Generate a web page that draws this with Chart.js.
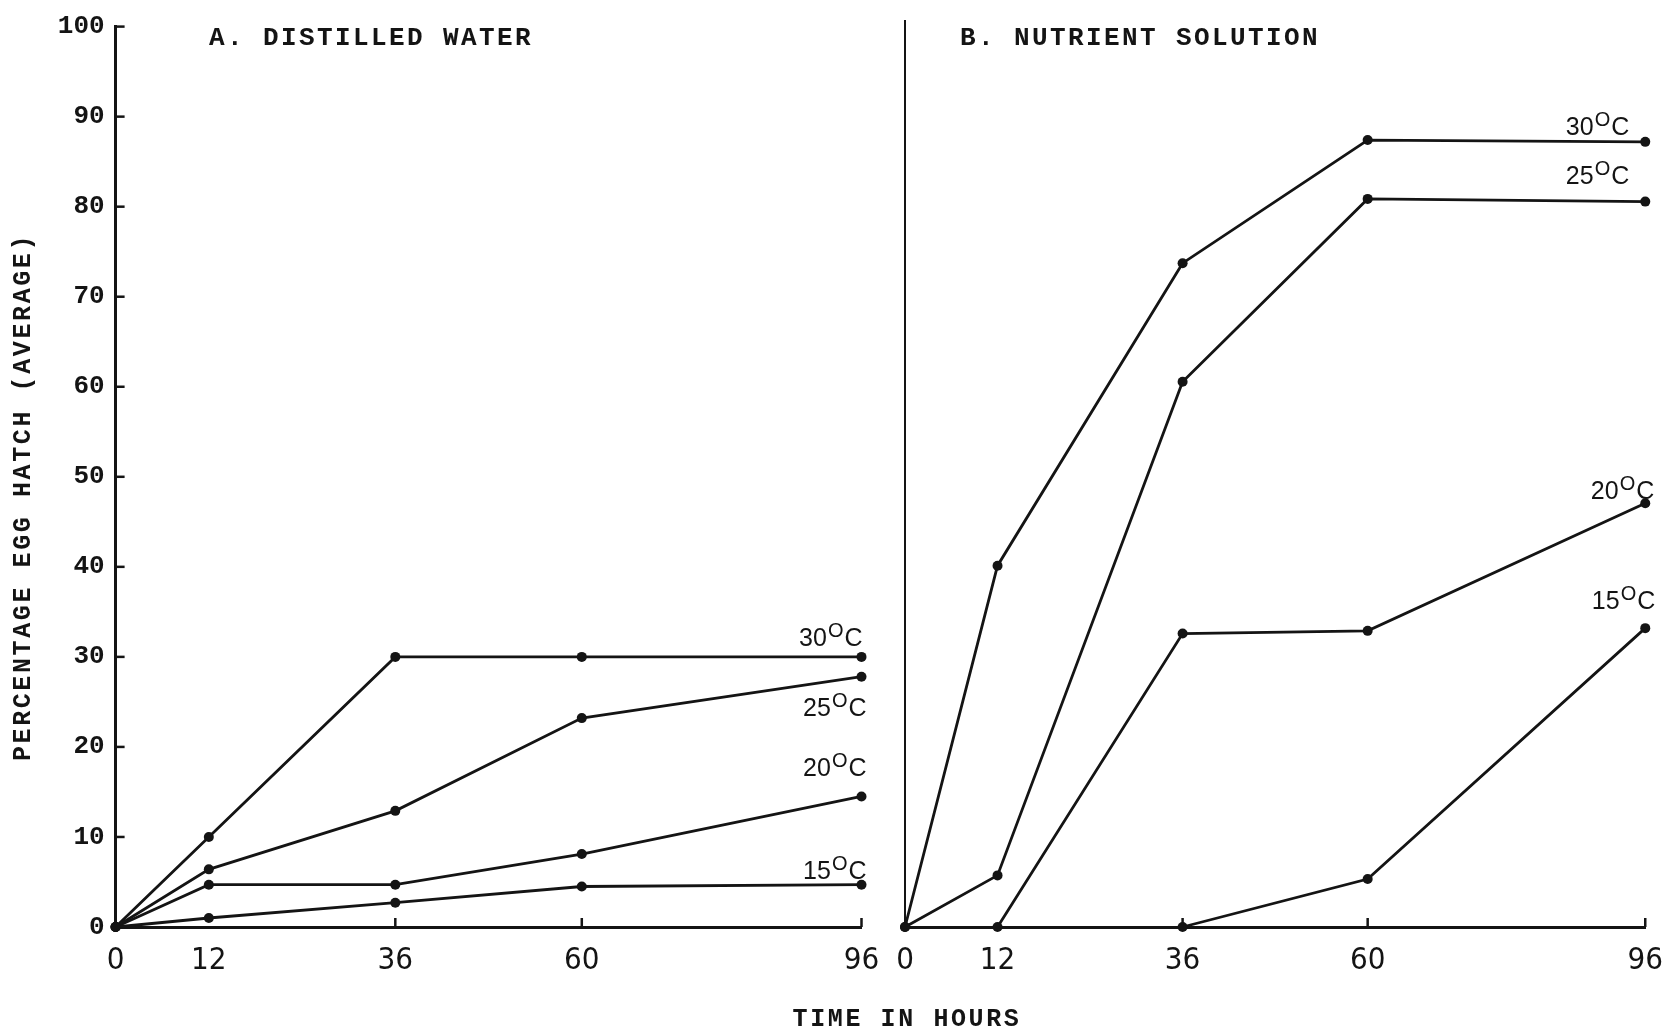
<!DOCTYPE html>
<html>
<head>
<meta charset="utf-8">
<script src="https://cdn.jsdelivr.net/npm/chart.js@4.4.1/dist/chart.umd.min.js"></script>
<style>
  html, body { margin: 0; padding: 0; background: #fff; }
  canvas { position: absolute; left: 0; top: 0; }
</style>
</head>
<body>
<canvas id="chartA" width="1678" height="1034"></canvas>
<canvas id="chartB" width="1678" height="1034"></canvas>
<script>
// time axis (hours) and percentage ticks
const hours = [0, 12, 36, 60, 96]
const percentTicks = [0, 10, 20, 30, 40, 50, 60, 70, 80, 90, 100]

// A. distilled water
const water30 = [0, 10, 30, 30, 30]
const water25 = [0, 6.4, 12.9, 23.2, 27.8]
const water20 = [0, 4.7, 4.7, 8.1, 14.5]
const water15 = [0, 1.0, 2.7, 4.5, 4.7]

// B. nutrient solution
const nutrient30 = [0, 39.9, 73.3, 86.9, 86.7]
const nutrient25 = [0, 5.7, 60.2, 80.4, 80.1]
const nutrient20 = [null, 0, 32.4, 32.7, 46.8]
const nutrient15 = [null, null, 0, 5.3, 33.0]

const ink = "#141414"
const monoFont = "'Liberation Mono', 'DejaVu Sans Mono', monospace"
const narrowFont = "'Liberation Sans Narrow', 'DejaVu Sans Condensed', sans-serif"
const sansFont = "'Liberation Sans', Arial, sans-serif"

function makeDataset(values) {
  return {
    data: hours.map((h, i) => ({ x: h, y: values[i] })),
    borderColor: ink,
    backgroundColor: ink,
    borderWidth: 2.8,
    pointRadius: 5,
    pointBackgroundColor: ink,
    pointBorderWidth: 0,
    tension: 0,
    clip: false,
  }
}

// draws "30°C" style labels with a raised O
function drawTempLabel(ctx, temp, right, baseline) {
  ctx.font = `25px ${sansFont}`
  const numW = ctx.measureText(temp).width
  const cW = ctx.measureText("C").width
  ctx.font = `20px ${sansFont}`
  const oW = ctx.measureText("O").width
  const left = right - (numW + oW + cW + 2)
  ctx.textAlign = "left"
  ctx.textBaseline = "alphabetic"
  ctx.font = `25px ${sansFont}`
  ctx.fillText(temp, left, baseline)
  ctx.font = `20px ${sansFont}`
  ctx.fillText("O", left + numW + 1, baseline - 9)
  ctx.font = `25px ${sansFont}`
  ctx.fillText("C", left + numW + oW + 2, baseline)
}

const panelDecor = {
  id: "panelDecor",
  afterDatasetsDraw(chart, args, opts) {
    const { ctx } = chart
    const xs = chart.scales.x
    const ys = chart.scales.y
    ctx.save()
    ctx.strokeStyle = ink
    ctx.fillStyle = ink
    ctx.lineWidth = 2.5

    // short tick marks pointing into the plot
    opts.xMarks.forEach((v) => {
      const px = xs.getPixelForValue(v)
      ctx.beginPath()
      ctx.moveTo(px, ys.bottom)
      ctx.lineTo(px, ys.bottom - 9)
      ctx.stroke()
    })
    opts.yMarks.forEach((v) => {
      const py = ys.getPixelForValue(v)
      ctx.beginPath()
      ctx.moveTo(xs.left, py)
      ctx.lineTo(xs.left + 9, py)
      ctx.stroke()
    })

    // panel heading
    ctx.font = `bold 26px ${monoFont}`
    ctx.letterSpacing = "2.4px"
    ctx.textAlign = "left"
    ctx.textBaseline = "alphabetic"
    ctx.fillText(opts.heading, opts.headingX, 45)
    ctx.letterSpacing = "0px"

    // temperature labels at the end of each line
    opts.tempLabels.forEach(([temp, values, dx, dy]) => {
      const px = xs.getPixelForValue(hours[hours.length - 1])
      const py = ys.getPixelForValue(values[values.length - 1])
      drawTempLabel(ctx, temp, px + dx, py + dy)
    })

    if (opts.axisTitles) {
      ctx.font = `bold 25px ${monoFont}`
      ctx.letterSpacing = "2.6px"
      ctx.textAlign = "center"
      ctx.textBaseline = "middle"
      ctx.fillText("TIME IN HOURS", 907, 1020)
    }
    if (opts.yTitle) {
      ctx.translate(24, 497)
      ctx.rotate(-Math.PI / 2)
      ctx.font = `bold 25px ${monoFont}`
      ctx.letterSpacing = "2.6px"
      ctx.textAlign = "center"
      ctx.textBaseline = "middle"
      ctx.fillText("PERCENTAGE EGG HATCH (AVERAGE)", 0, 0)
    }
    ctx.restore()
  },
}

function buildScales(showYLabels, yWidth) {
  return {
    x: {
      type: "linear",
      min: 0,
      max: 96,
      afterBuildTicks: (scale) => {
        scale.ticks = hours.map((v) => ({ value: v }))
      },
      afterFit: (scale) => {
        scale.height = 107
      },
      grid: { display: false, drawTicks: false },
      border: { display: true, color: ink, width: 3 },
      ticks: {
        color: ink,
        padding: 15,
        autoSkip: false,
        maxRotation: 0,
        font: { family: narrowFont, size: 31 },
      },
    },
    y: {
      min: 0,
      max: 100,
      afterBuildTicks: (scale) => {
        scale.ticks = percentTicks.map((v) => ({ value: v }))
      },
      afterFit: (scale) => {
        scale.width = yWidth
      },
      grid: { display: false, drawTicks: false },
      border: { display: true, color: ink, width: showYLabels ? 3 : 2 },
      ticks: {
        display: showYLabels,
        color: ink,
        padding: 11,
        font: { family: monoFont, size: 26, weight: "bold" },
      },
    },
  }
}

const chartA = new Chart(document.getElementById("chartA"), {
  type: "line",
  data: {
    datasets: [water30, water25, water20, water15].map(makeDataset),
  },
  options: {
    responsive: false,
    animation: false,
    layout: { padding: { left: 0, right: 1678 - 861.5, top: 21.4, bottom: 0 } },
    plugins: {
      legend: { display: false },
      tooltip: { enabled: false },
      panelDecor: {
        heading: "A. DISTILLED WATER",
        headingX: 209,
        xMarks: [36, 60, 96],
        yMarks: percentTicks.slice(1),
        tempLabels: [
          ["30", water30, 1, -11],
          ["25", water25, 5, 39],
          ["20", water20, 5, -20],
          ["15", water15, 5, -6],
        ],
        yTitle: true,
      },
    },
    scales: buildScales(true, 115.6),
  },
  plugins: [panelDecor],
})

const chartB = new Chart(document.getElementById("chartB"), {
  type: "line",
  data: {
    datasets: [nutrient30, nutrient25, nutrient20, nutrient15].map(makeDataset),
  },
  options: {
    responsive: false,
    animation: false,
    layout: { padding: { left: 905, right: 1678 - 1653.5, top: 21.4, bottom: 0 } },
    plugins: {
      legend: { display: false },
      tooltip: { enabled: false },
      panelDecor: {
        heading: "B. NUTRIENT SOLUTION",
        headingX: 960,
        xMarks: [36, 60, 96],
        yMarks: [],
        tempLabels: [
          ["30", nutrient30, -16, -7],
          ["25", nutrient25, -16, -18],
          ["20", nutrient20, 9, -4],
          ["15", nutrient15, 10, -19],
        ],
        axisTitles: true,
      },
    },
    scales: buildScales(false, 0),
  },
  plugins: [panelDecor],
})
</script>
</body>
</html>
